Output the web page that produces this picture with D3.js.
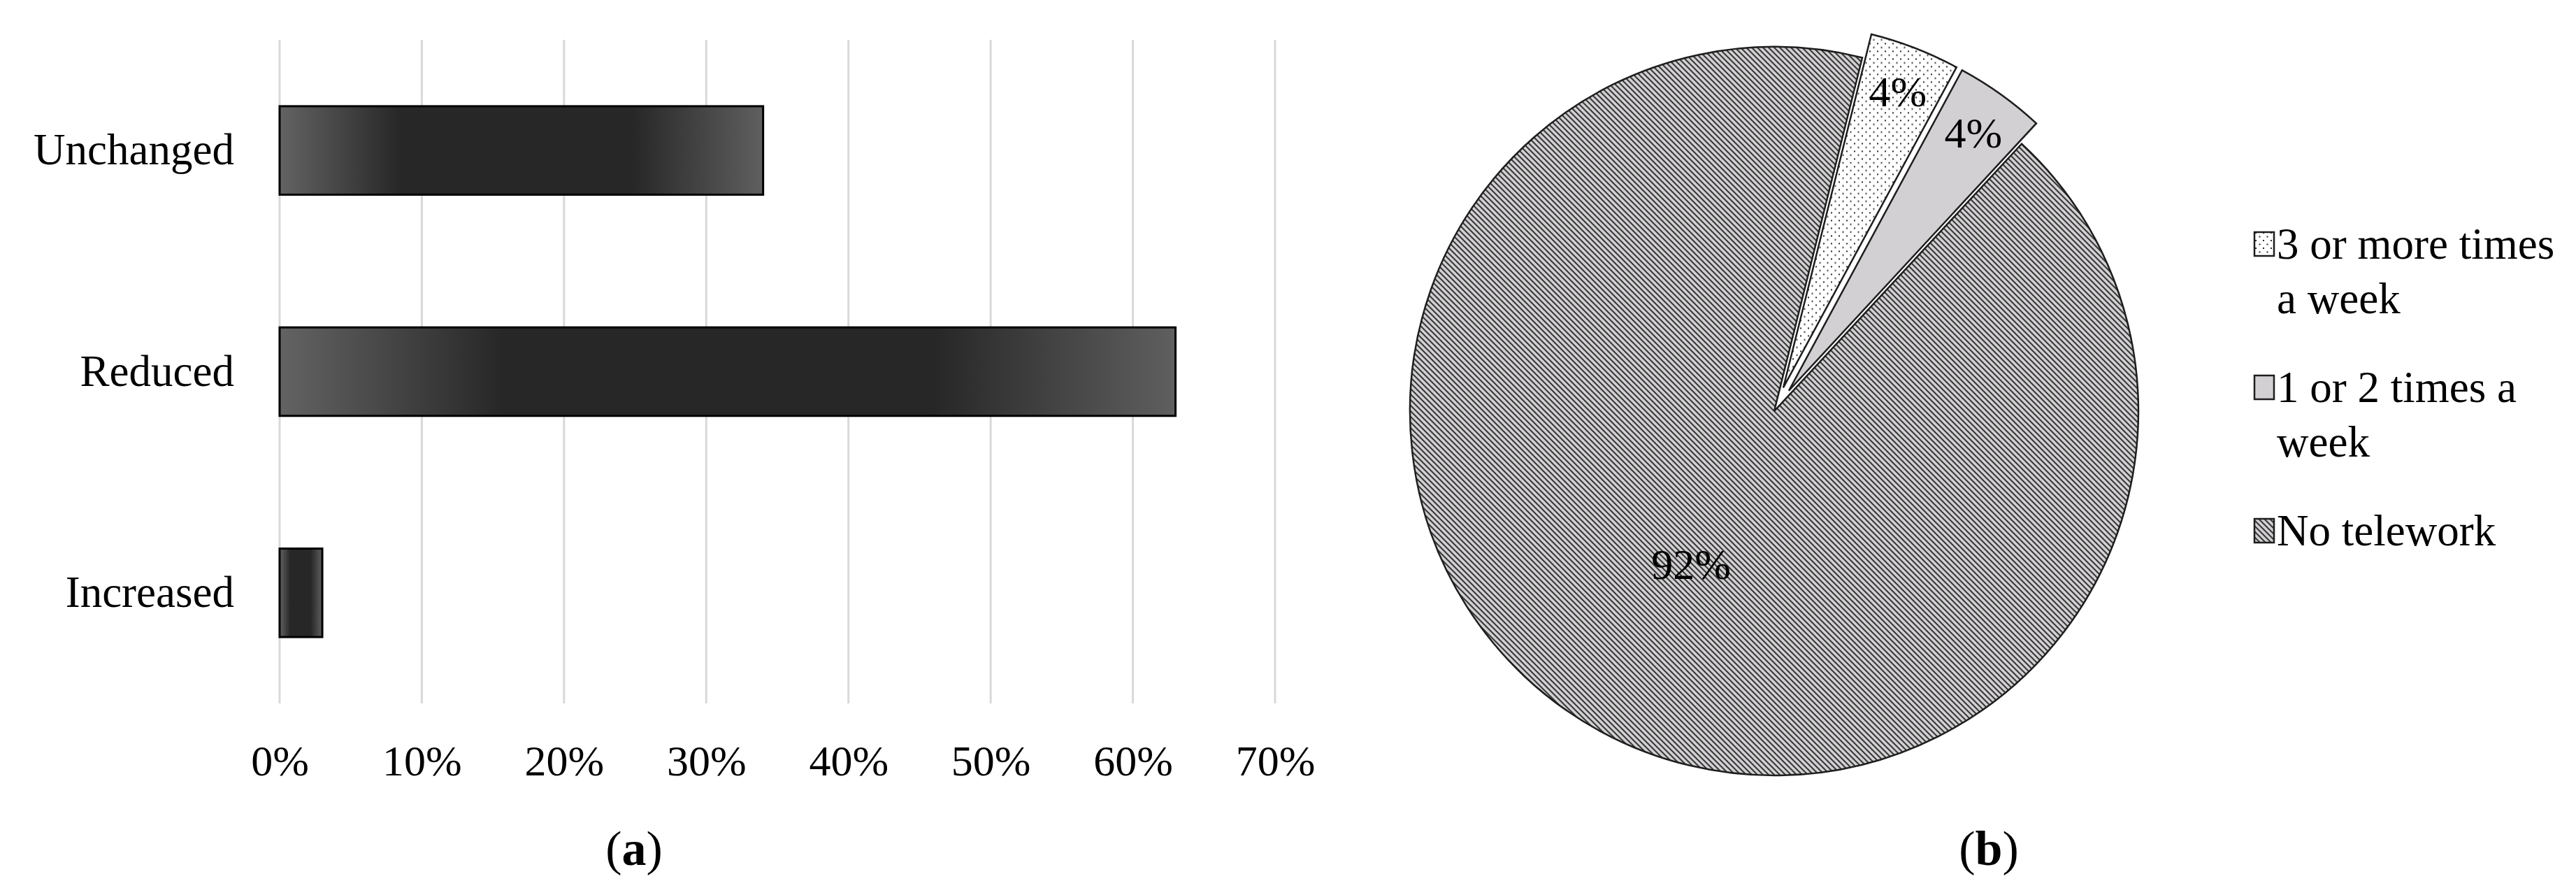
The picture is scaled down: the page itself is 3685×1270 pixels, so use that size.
<!DOCTYPE html>
<html>
<head>
<meta charset="utf-8">
<script src="https://cdn.jsdelivr.net/npm/d3@7"></script>
<style>
  body { margin: 0; background: #fff; }
  svg { display: block; font-family: "Liberation Serif", "DejaVu Serif", serif; }
</style>
</head>
<body>
<div id="chart-wrap"></div>
<script>
// (a) bar chart data
const barCategories = ["Unchanged", "Reduced", "Increased"];
const barValues = [0.34, 0.63, 0.03];
const xTicks = [0, 0.1, 0.2, 0.3, 0.4, 0.5, 0.6, 0.7];

// (b) pie chart data
const pieCategories = ["3 or more times a week", "1 or 2 times a week", "No telework"];
const pieValues = [4, 4, 92];
const explodedSlices = ["3 or more times a week", "1 or 2 times a week"];

const width = 3685;
const height = 1270;

const svg = d3.select("#chart-wrap")
  .append("svg")
  .attr("width", width)
  .attr("height", height);

const defs = svg.append("defs");

// bar gradient: lighter at both ends, dark in the middle
const grad = defs.append("linearGradient").attr("id", "barGrad");
[[0, "#636363"], [0.25, "#272727"], [0.73, "#272727"], [1, "#5f5f5f"]].forEach(s => {
  grad.append("stop").attr("offset", s[0]).attr("stop-color", s[1]);
});

// pie fill patterns
const dots = defs.append("pattern").attr("id", "dots")
  .attr("patternUnits", "userSpaceOnUse").attr("width", 11).attr("height", 11);
dots.append("rect").attr("width", 11).attr("height", 11).attr("fill", "#fff");
dots.append("rect").attr("x", 2).attr("y", 2).attr("width", 2).attr("height", 2).attr("fill", "#2a2a2a");
dots.append("rect").attr("x", 7.5).attr("y", 7.5).attr("width", 2).attr("height", 2).attr("fill", "#2a2a2a");

const hatch = defs.append("pattern").attr("id", "hatch")
  .attr("patternUnits", "userSpaceOnUse").attr("width", 8).attr("height", 8);
hatch.append("rect").attr("width", 8).attr("height", 8).attr("fill", "#d2d0d2");
hatch.append("path")
  .attr("d", "M0,0L8,8M-4,4L4,12M4,-4L12,4")
  .attr("stroke", "#3a3a3a").attr("stroke-width", 2.1);

const pieFills = {
  "3 or more times a week": "url(#dots)",
  "1 or 2 times a week": "#d2d0d2",
  "No telework": "url(#hatch)"
};

// ---------- (a) bars ----------
const margin = {left: 400, right: 1824, top: 57, bottom: 1006};

const x = d3.scaleLinear()
  .domain([0, 0.7])
  .range([margin.left, margin.right]);

const y = d3.scaleBand()
  .domain(barCategories)
  .range([margin.top, margin.bottom])
  .paddingInner(0.6)
  .paddingOuter(0.3);

// grid
svg.append("g")
  .selectAll("line")
  .data(xTicks)
  .join("line")
  .attr("x1", d => x(d)).attr("x2", d => x(d))
  .attr("y1", margin.top).attr("y2", margin.bottom)
  .attr("stroke", "#d9d9d9")
  .attr("stroke-width", 3);

// x axis labels
const xAxis = svg.append("g")
  .attr("transform", "translate(0," + 1062 + ")")
  .call(d3.axisBottom(x).tickValues(xTicks).tickFormat(d3.format(".0%")).tickSize(0));
xAxis.select(".domain").remove();
xAxis.selectAll("text")
  .attr("font-family", "Liberation Serif, DejaVu Serif, serif")
  .attr("font-size", 62)
  .attr("fill", "#000")
  .attr("dy", "0.71em");

// y axis labels
const yAxis = svg.append("g")
  .attr("transform", "translate(" + 335 + ",0)")
  .call(d3.axisLeft(y).tickSize(0).tickPadding(0));
yAxis.select(".domain").remove();
yAxis.selectAll("text")
  .attr("font-family", "Liberation Serif, DejaVu Serif, serif")
  .attr("font-size", 63)
  .attr("fill", "#000");

svg.append("g")
  .selectAll("rect")
  .data(barValues)
  .join("rect")
  .attr("x", x(0))
  .attr("y", (d, i) => y(barCategories[i]))
  .attr("width", d => x(d) - x(0))
  .attr("height", y.bandwidth())
  .attr("fill", "url(#barGrad)")
  .attr("stroke", "#000")
  .attr("stroke-width", 3);

// caption (a)
const capA = svg.append("text")
  .attr("x", 907).attr("y", 1237)
  .attr("text-anchor", "middle")
  .attr("font-size", 70);
capA.append("tspan").text("(");
capA.append("tspan").attr("font-weight", "bold").text("a");
capA.append("tspan").text(")");

// ---------- (b) pie ----------
const cx = 2538, cy = 588, r = 521, explode = 36;
const startDeg = 14;

const pie = d3.pie()
  .sort(null)
  .value(d => d)
  .startAngle(startDeg * Math.PI / 180)
  .endAngle(startDeg * Math.PI / 180 + 2 * Math.PI);

const arc = d3.arc().innerRadius(0).outerRadius(r);

const slices = pie(pieValues).map((d, i) => {
  const mid = (d.startAngle + d.endAngle) / 2;
  const off = explodedSlices.includes(pieCategories[i]) ? explode : 0;
  return Object.assign(d, {
    name: pieCategories[i],
    mid: mid,
    dx: Math.sin(mid) * off,
    dy: -Math.cos(mid) * off
  });
});

const pieG = svg.append("g").attr("transform", "translate(" + cx + "," + cy + ")");

pieG.selectAll("path")
  .data(slices.slice().reverse())
  .join("path")
  .attr("transform", d => "translate(" + d.dx + "," + d.dy + ")")
  .attr("d", arc)
  .attr("fill", d => pieFills[d.name])
  .attr("stroke", "#1e1e1e")
  .attr("stroke-width", 2.5)
  .attr("stroke-linejoin", "miter");

pieG.selectAll("text")
  .data(slices)
  .join("text")
  .attr("x", d => {
    const lr = d.value > 50 ? 0.48 * r : 0.87 * r;
    return Math.sin(d.mid) * lr + d.dx;
  })
  .attr("y", d => {
    const lr = d.value > 50 ? 0.48 * r : 0.87 * r;
    return -Math.cos(d.mid) * lr + d.dy;
  })
  .attr("text-anchor", "middle")
  .attr("dy", "0.33em")
  .attr("font-size", 62)
  .text(d => d.value + "%");

// legend
const legend = svg.append("g").attr("transform", "translate(3257,0)");
const lineH = 78;
let ly = 349;
pieCategories.forEach(name => {
  legend.append("rect")
    .attr("x", -32).attr("y", ly - 17)
    .attr("width", 28).attr("height", 34)
    .attr("fill", pieFills[name])
    .attr("stroke", "#1e1e1e")
    .attr("stroke-width", 2.5);
  const t = legend.append("text")
    .attr("x", 0).attr("y", ly + 21)
    .attr("font-size", 63);
  // wrap words into lines no wider than the legend column
  const words = name.split(" ");
  let line = [];
  let tspan = t.append("tspan").attr("x", 0);
  let n = 1;
  words.forEach(w => {
    line.push(w);
    tspan.text(line.join(" "));
    if (tspan.node().getComputedTextLength() > 415 && line.length > 1) {
      line.pop();
      tspan.text(line.join(" "));
      line = [w];
      tspan = t.append("tspan").attr("x", 0).attr("dy", lineH).text(w);
      n++;
    }
  });
  ly += n * lineH + 49;
});

// caption (b)
const capB = svg.append("text")
  .attr("x", 2845).attr("y", 1237)
  .attr("text-anchor", "middle")
  .attr("font-size", 70);
capB.append("tspan").text("(");
capB.append("tspan").attr("font-weight", "bold").text("b");
capB.append("tspan").text(")");
</script>
</body>
</html>
